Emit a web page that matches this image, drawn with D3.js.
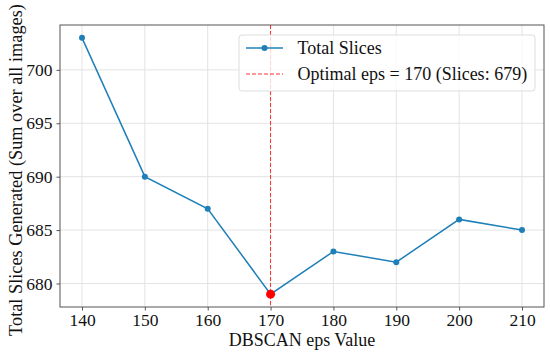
<!DOCTYPE html>
<html>
<head>
<meta charset="utf-8">
<script src="https://cdn.jsdelivr.net/npm/d3@7"></script>
<style>
  body { margin: 0; background: #fff; }
  text { font-family: "Liberation Serif", "Times New Roman", serif; }
</style>
</head>
<body>
<div id="chart"></div>
<script>
const epsValues = [140, 150, 160, 170, 180, 190, 200, 210]
const totalSlices = [703, 690, 687, 679, 683, 682, 686, 685]
const xTicks = [140, 150, 160, 170, 180, 190, 200, 210]
const yTicks = [680, 685, 690, 695, 700]
const optimalEps = 170
const optimalSlices = 679

const width = 550, height = 352
const margin = { top: 25, right: 6, bottom: 45, left: 60 }
const blue = "#1f7fb8"
const red = "#ff0000"

const svg = d3.select("#chart")
  .append("svg")
  .attr("width", width)
  .attr("height", height)

const x = d3.scaleLinear()
  .domain([136.5, 213.5])
  .range([margin.left, width - margin.right])

const y = d3.scaleLinear()
  .domain([677.8, 704.2])
  .range([height - margin.bottom, margin.top])

// grid
svg.append("g")
  .selectAll("line.vgrid")
  .data(xTicks)
  .enter().append("line")
    .attr("x1", d => x(d)).attr("x2", d => x(d))
    .attr("y1", margin.top).attr("y2", height - margin.bottom)
    .attr("stroke", "#e3e3e3").attr("stroke-width", 1)

svg.append("g")
  .selectAll("line.hgrid")
  .data(yTicks)
  .enter().append("line")
    .attr("x1", margin.left).attr("x2", width - margin.right)
    .attr("y1", d => y(d)).attr("y2", d => y(d))
    .attr("stroke", "#e3e3e3").attr("stroke-width", 1)

// axes
const xAxis = svg.append("g")
  .attr("transform", `translate(0,${height - margin.bottom})`)
  .call(d3.axisBottom(x).tickValues(xTicks).tickSize(3.5).tickPadding(3))
const yAxis = svg.append("g")
  .attr("transform", `translate(${margin.left},0)`)
  .call(d3.axisLeft(y).tickValues(yTicks).tickSize(3.5).tickPadding(4))

for (const ax of [xAxis, yAxis]) {
  ax.attr("font-size", null).attr("font-family", null)
  ax.select(".domain").remove()
  ax.selectAll(".tick line").attr("stroke", "#555")
  ax.selectAll(".tick text")
    .attr("fill", "#111")
    .style("font-size", "17.5px")
}

// frame
svg.append("rect")
  .attr("x", margin.left).attr("y", margin.top)
  .attr("width", width - margin.left - margin.right)
  .attr("height", height - margin.top - margin.bottom)
  .attr("fill", "none")
  .attr("stroke", "#555")
  .attr("stroke-width", 1)

// optimal vertical line
svg.append("line")
  .attr("x1", x(optimalEps)).attr("x2", x(optimalEps))
  .attr("y1", margin.top).attr("y2", height - margin.bottom)
  .attr("stroke", red).attr("stroke-width", 1)
  .attr("stroke-dasharray", "4,2")
  .attr("opacity", 0.8)

// series
const line = d3.line()
  .x((d, i) => x(epsValues[i]))
  .y(d => y(d))

svg.append("path")
  .attr("d", line(totalSlices))
  .attr("fill", "none")
  .attr("stroke", blue)
  .attr("stroke-width", 1.5)

svg.selectAll("circle.pt")
  .data(totalSlices)
  .enter().append("circle")
    .attr("class", "pt")
    .attr("cx", (d, i) => x(epsValues[i]))
    .attr("cy", d => y(d))
    .attr("r", 3)
    .attr("fill", blue)

svg.append("circle")
  .attr("cx", x(optimalEps))
  .attr("cy", y(optimalSlices))
  .attr("r", 4.5)
  .attr("fill", red)

// legend
const lg = svg.append("g").attr("transform", "translate(239,35)")
lg.append("rect")
  .attr("width", 296).attr("height", 56)
  .attr("rx", 3)
  .attr("fill", "#fff").attr("fill-opacity", 0.8)
  .attr("stroke", "#ddd")

lg.append("line")
  .attr("x1", 7).attr("x2", 44).attr("y1", 13).attr("y2", 13)
  .attr("stroke", blue).attr("stroke-width", 1.5)
lg.append("circle")
  .attr("cx", 25.5).attr("cy", 13).attr("r", 3).attr("fill", blue)
lg.append("text")
  .attr("x", 58.5).attr("y", 19)
  .style("font-size", "18px")
  .attr("fill", "#111")
  .text("Total Slices")

lg.append("line")
  .attr("x1", 7).attr("x2", 44).attr("y1", 39).attr("y2", 39)
  .attr("stroke", red).attr("stroke-width", 1)
  .attr("stroke-dasharray", "4,2")
  .attr("opacity", 0.8)
lg.append("text")
  .attr("x", 58.5).attr("y", 45)
  .style("font-size", "18px")
  .attr("fill", "#111")
  .text(`Optimal eps = ${optimalEps} (Slices: ${optimalSlices})`)

// axis labels
svg.append("text")
  .attr("x", (margin.left + width - margin.right) / 2)
  .attr("y", 346)
  .attr("text-anchor", "middle")
  .style("font-size", "18px")
  .attr("fill", "#111")
  .text("DBSCAN eps Value")

svg.append("text")
  .attr("transform", `translate(22,170) rotate(-90)`)
  .attr("text-anchor", "middle")
  .style("font-size", "18.3px")
  .attr("fill", "#111")
  .text("Total Slices Generated (Sum over all images)")
</script>
</body>
</html>
